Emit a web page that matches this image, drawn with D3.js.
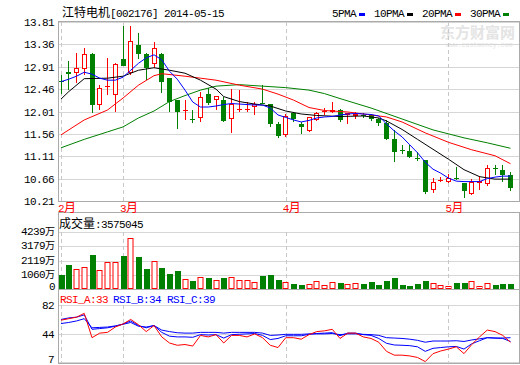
<!DOCTYPE html>
<meta charset="utf-8">
<script src="https://cdn.jsdelivr.net/npm/d3@7"></script>
<style>
  body { margin: 0; background: #fff; }
  text { font-family: "Liberation Mono", "DejaVu Sans Mono", "Noto Sans CJK SC", monospace; font-size: 11px; letter-spacing: -0.6px; }
  .cjk { font-family: "Noto Sans CJK SC", sans-serif; font-size: 12px; letter-spacing: 0; }
  .vol .cjk { font-size: 10px; }
</style>
<body>
<div id="chart"></div>
<script>
// ---- data ----
const title = "江特电机[002176] 2014-05-15";
const monthLabels = ["2月", "3月", "4月", "5月"];
const monthStart = [0, 8, 29, 50];

const open  = [12.63,12.80,12.78,12.86,13.17,12.14,12.51,12.34,13.07,12.78, 13.35,13.16,12.96,13.17,12.68,12.24,12.03,11.85,11.87,12.36, 12.25,12.24,11.85,12.04,12.05,12.11,12.18,12.17,11.75,11.53, 11.97,11.75,11.62,11.84,12.02,12.01,12.04,11.93,11.92,11.94, 11.93,11.85,11.77,11.45,11.23,11.22,11.07,11.03,10.43,10.63, 10.60,10.68,10.58,10.35,10.58,10.55,10.88,10.83,10.73];
const close = [12.62,12.77,12.88,13.16,12.14,12.48,12.52,12.96,12.93,13.43, 13.16,12.89,13.29,12.61,12.21,12.01,12.04,11.84,12.31,12.19, 12.32,11.82,12.17,12.07,12.06,12.17,12.17,11.75,11.52,11.91, 11.86,11.70,11.90,11.97,12.03,12.04,11.84,11.97,11.95,11.93, 11.85,11.77,11.45,11.20,11.21,11.10,11.06,10.40,10.60,10.64, 10.68,10.67,10.42,10.59,10.61,10.88,10.87,10.73,10.47];
const high  = [12.74,13.03,13.19,13.29,13.19,12.54,13.08,12.98,13.72,13.73, 13.58,13.18,13.41,13.18,12.68,12.24,12.24,12.04,12.41,12.48, 12.32,12.31,12.46,12.44,12.21,12.21,12.54,12.17,11.80,11.95, 11.99,11.80,11.90,12.01,12.09,12.21,12.06,11.97,12.00,11.98, 11.95,11.88,11.84,11.64,11.34,11.34,11.20,11.03,10.67,10.70, 10.75,10.90,10.58,10.65,10.71,10.93,10.94,10.93,10.80];
const low   = [12.36,12.44,12.58,12.74,11.98,12.04,12.34,12.01,12.92,12.74, 13.06,12.64,12.88,12.38,12.01,11.65,11.84,11.78,11.80,12.14, 12.04,11.80,11.57,11.99,11.99,11.94,12.16,11.70,11.47,11.50, 11.80,11.55,11.60,11.82,11.94,11.97,11.80,11.75,11.86,11.88, 11.82,11.72,11.44,11.00,11.15,11.07,11.02,10.35,10.38,10.60, 10.58,10.63,10.28,10.34,10.43,10.52,10.73,10.60,10.42];

// volume in 万 shares
const volume = [1041,1785,1487,1611,2528,1413,1983,1983,2454,3770, 2380,1510,2082,1584,1115,1361,744,595,870,840, 669,840,915,669,669,498,967,1041,669,498, 372,297,372,595,275,498,446,372,424,372, 520,297,595,840,297,223,372,595,424,297, 223,446,446,595,223,424,297,372,357.5];
const volText = "成交量:3575045";

const ma5 = [12.61,12.66,12.72,12.80,12.76,12.68,12.64,12.64,12.70,12.84, 12.98,13.09,13.15,13.05,12.82,12.66,12.44,12.20,12.10,12.10, 12.12,12.15,12.17,12.16,12.15,12.14,12.14,12.08,11.94,11.89, 11.84,11.80,11.83,11.88,11.90,11.91,11.94,11.96,11.97,11.96, 11.95,11.92,11.76,11.62,11.50,11.34,11.18,10.99,10.85,10.77, 10.67,10.61,10.60,10.60,10.60,10.66,10.69,10.71,10.71];
// [day index, value]
const ma10 = [[0,12.26],[1,12.41],[3,12.67],[6,12.68],[8,12.72],[10,12.84],[12,12.89],[14,12.84],[16,12.78],[18,12.64],[20,12.46],[21,12.31],[23,12.21],[25,12.16],[27,12.12],[29,12.02],[31,11.96],[33,11.93],[36,11.91],[39,11.92],[41,11.88],[42,11.82],[44,11.65],[46,11.45],[48,11.25],[50,11.05],[52,10.84],[54,10.70],[56,10.65],[58,10.65]];
const ma20 = [[0,11.54],[3,11.84],[6,12.04],[8,12.28],[10,12.54],[12,12.73],[13,12.77],[16,12.72],[18,12.68],[20,12.64],[23,12.54],[26,12.46],[28,12.36],[30,12.24],[32,12.09],[34,12.03],[37,12.00],[40,11.94],[42,11.90],[44,11.80],[47,11.58],[50,11.39],[53,11.24],[56,11.12],[58,10.96]];
const ma30 = [[0,11.28],[3,11.45],[6,11.60],[8,11.70],[10,11.88],[12,12.02],[14,12.21],[16,12.33],[18,12.44],[20,12.52],[23,12.55],[26,12.52],[29,12.49],[32,12.44],[34,12.37],[36,12.27],[40,12.08],[44,11.86],[48,11.64],[52,11.48],[55,11.38],[58,11.27]];

const rsiA = [62,64,66,71,39,45,46,53,57,63, 56,47,55,40,32,29,30,28,42,40, 43,32,42,42,40,44, 39,29,26,39,39,37,43,47,48,50, 38,45,45,40,38,33,21,16,16,15, 13,7.5,18,21.5,24,27,18,30,40,49, 47,42,33];
const rsiB = [63,65,66,69,50,51,52,54,57,61, 55,52,55,46,41,40,40,39.5,43,42.5, 43,38.5,43,43.5,44,44.5, 42,36.5,38,41.5,41.5,41.5,43.4,44.5,45,45.6, 41.6,45,45,43,42,38,31.6,29.4,29,28.5, 27,21,25,26,27,27.5,24,31,35,39, 38.5,38,34];
const rsiC = [57.6,59,61,64,52,52.5,53,54.5,56.6,59, 54,53,55,49,47,45.5,45,45,46,46, 46,45,46,46,46,46, 45,42,42.5,43.4,43.4,43.4,44,44,44,44.5, 43,44,44,43.4,43,42,39,38.5,38,37, 35.5,33,34.6,34.6,34.6,35,34,36,37.5,39, 38.5,38.5,39];
const rsiLabels = ["RSI_A:33", "RSI_B:34", "RSI_C:39"];

const priceTicks = [13.81,13.36,12.91,12.46,12.01,11.56,11.11,10.66,10.21];
const volTicks = [0,1060,2119,3179,4239];
const rsiTicks = [7,44,82];
const legendNames = ["5PMA","10PMA","20PMA","30PMA"];

// ---- layout ----
const W = 520, H = 365, L = 58, R = 519;
const RED = "#ff0000", GREEN = "#008000", BLUE = "#0000ff";
const FRAME = "#aaaaaa", GRID = "#d6d6d6";

const svg = d3.select("#chart").append("svg").attr("width", W).attr("height", H);
svg.append("rect").attr("width", W).attr("height", H).attr("fill", "#fff");

const x = d3.scaleLinear().domain([0, open.length - 1]).range([61, 510.5]);
const y = d3.scaleLinear().domain([10.21, 13.81]).range([201, 22]);
const yv = d3.scaleLinear().domain([0, 4239]).range([289, 232]);
const yr = d3.scaleLinear().domain([7, 82]).range([362, 305]);

const px = v => Math.round(v) + 0.5;

// text with CJK runs set a bit larger, like the bitmap font of the original
function rich(t, s) {
  const runs = String(s).match(/[\u3000-\u9fff]+|[^\u3000-\u9fff]+/g);
  runs.forEach(r => t.append("tspan").attr("class", /[\u3000-\u9fff]/.test(r) ? "cjk" : null).text(r));
}

// watermark
svg.append("text").attr("x", 440).attr("y", 38).attr("fill", "#e4e4e4")
  .attr("class", "cjk").style("font-size", "15px").style("font-weight", "bold").text("东方财富网");
svg.append("text").attr("x", 446).attr("y", 47).attr("fill", "#e4e4e4")
  .style("font-size", "6.5px").style("letter-spacing", "0").text("www.eastmoney.com");

// grids
function hgrid(scale, ticks) {
  svg.append("g").selectAll("line").data(ticks).join("line")
    .attr("x1", L).attr("x2", R)
    .attr("y1", d => px(scale(d))).attr("y2", d => px(scale(d)))
    .attr("stroke", GRID);
}
hgrid(y, priceTicks);
hgrid(yv, volTicks);
hgrid(yr, rsiTicks);

// month dashed lines
[[22, 201], [232, 289], [305, 362]].forEach(([t, b]) => {
  svg.append("g").selectAll("line").data(monthStart).join("line")
    .attr("x1", d => px(x(d))).attr("x2", d => px(x(d)))
    .attr("y1", t).attr("y2", b)
    .attr("stroke", "#c8c8c8").attr("stroke-dasharray", "4,3");
});

// frames
svg.append("rect").attr("x", L + 0.5).attr("y", 21.5).attr("width", R - L).attr("height", 180)
  .attr("fill", "none").attr("stroke", FRAME);
svg.append("rect").attr("x", L + 0.5).attr("y", 212.5).attr("width", R - L).attr("height", 151)
  .attr("fill", "none").attr("stroke", FRAME);
svg.append("line").attr("x1", L).attr("x2", R).attr("y1", 289.5).attr("y2", 289.5).attr("stroke", FRAME);

// axis labels
svg.append("g").selectAll("text").data(priceTicks).join("text")
  .attr("x", 54).attr("y", d => y(d) + 4).attr("text-anchor", "end").text(d => d.toFixed(2));
svg.append("g").attr("class", "vol").selectAll("text").data(volTicks).join("text")
  .attr("x", 55).attr("y", d => d === 0 ? 290 : yv(d) + 3).attr("text-anchor", "end")
  .each(function (d) { rich(d3.select(this), d === 0 ? "0" : d + "万"); });
svg.append("g").selectAll("text").data(rsiTicks).join("text")
  .attr("x", 54).attr("y", d => Math.min(yr(d) + 4, 363)).attr("text-anchor", "end").text(d => d);

// month labels
svg.append("g").selectAll("text").data(monthLabels).join("text")
  .attr("x", (d, i) => x(monthStart[i]) - 3).attr("y", 212)
  .attr("fill", RED).each(function (d) { rich(d3.select(this), d); });

// title & legend
rich(svg.append("text").attr("x", 62).attr("y", 17), title);
const legendX = [332, 374, 422, 470];
const legendColor = [BLUE, "#000", RED, GREEN];
const lg = svg.append("g").selectAll("g").data(legendNames).join("g")
  .attr("transform", (d, i) => `translate(${legendX[i]},17)`);
lg.append("text").text(d => d);
lg.append("rect").attr("x", (d, i) => i === 0 ? 27 : 33).attr("y", -4).attr("width", 6).attr("height", 3)
  .attr("fill", (d, i) => legendColor[i]);

// candles
const days = d3.range(open.length);
const up = i => close[i] >= open[i];
const cg = svg.append("g").selectAll("g").data(days).join("g");
cg.each(function (i) {
  const g = d3.select(this);
  const cx = Math.floor(x(i));
  const col = up(i) ? RED : GREEN;
  const top = y(Math.max(open[i], close[i])), bot = y(Math.min(open[i], close[i]));
  const t = Math.round(top), b = Math.max(Math.round(bot), t + 1);
  g.append("line").attr("x1", cx + 0.5).attr("x2", cx + 0.5)
    .attr("y1", Math.round(y(high[i]))).attr("y2", t).attr("stroke", col);
  g.append("line").attr("x1", cx + 0.5).attr("x2", cx + 0.5)
    .attr("y1", b).attr("y2", Math.round(y(low[i]))).attr("stroke", col);
  if (b - t <= 1) {
    g.append("line").attr("x1", cx - 2).attr("x2", cx + 3).attr("y1", t + 0.5).attr("y2", t + 0.5).attr("stroke", col);
  } else if (up(i)) {
    g.append("rect").attr("x", cx - 1.5).attr("y", t + 0.5).attr("width", 4).attr("height", b - t - 1)
      .attr("fill", "#fff").attr("stroke", col);
  } else {
    g.append("rect").attr("x", cx - 2).attr("y", t).attr("width", 5).attr("height", b - t).attr("fill", col);
  }
});

// moving averages
const line = d3.line().x(d => x(d[0])).y(d => y(d[1]));
const maSeries = [[ma30, GREEN], [ma20, RED], [ma10, "#000"], [ma5.map((v, i) => [i, v]), BLUE]];
maSeries.forEach(([data, col]) => {
  svg.append("path").datum(data).attr("d", line).attr("fill", "none").attr("stroke", col).attr("stroke-width", 1);
});

// volume
rich(svg.append("text").attr("x", 59).attr("y", 228), volText);
svg.append("g").selectAll("rect").data(days).join("rect")
  .each(function (i) {
    const cx = Math.floor(x(i));
    const t = Math.round(yv(volume[i]));
    const r = d3.select(this);
    if (up(i)) r.attr("x", cx - 2).attr("y", t + 0.5).attr("width", 5).attr("height", 289 - t - 1)
      .attr("fill", "#fff").attr("stroke", RED);
    else r.attr("x", cx - 2).attr("y", t).attr("width", 6).attr("height", 289 - t).attr("fill", GREEN);
  });

// RSI
const rline = d3.line().x((d, i) => x(i)).y(d => yr(d));
[[rsiC, BLUE], [rsiB, BLUE], [rsiA, RED]].forEach(([data, col]) => {
  svg.append("path").datum(data).attr("d", rline).attr("fill", "none").attr("stroke", col).attr("stroke-width", 1);
});
const rsiX = [60, 113, 167], rsiCol = [RED, BLUE, BLUE];
svg.append("g").selectAll("text").data(rsiLabels).join("text")
  .attr("x", (d, i) => rsiX[i]).attr("y", 303).attr("fill", (d, i) => rsiCol[i]).text(d => d);
</script>
</body>
